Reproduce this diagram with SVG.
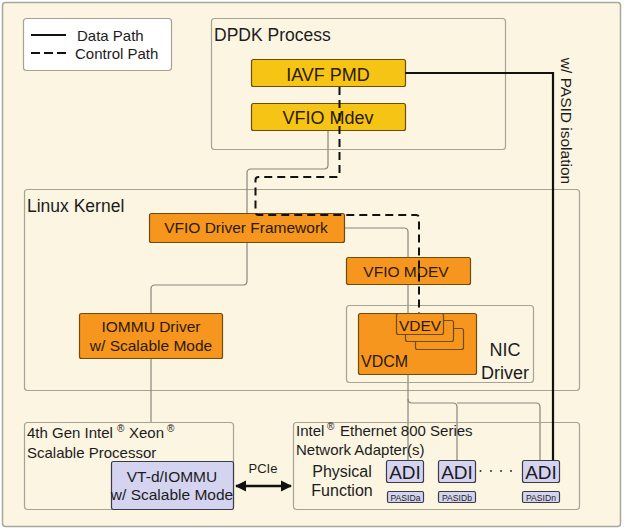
<svg xmlns="http://www.w3.org/2000/svg" width="624" height="532" viewBox="0 0 624 532">
<style>
text{font-family:"Liberation Sans",Arial,sans-serif;fill:#1c1c1c}
.grp{fill:none;stroke:#a6a396;stroke-width:1.2}
.gold{fill:#f6c414;stroke:#6e4c0e;stroke-width:1.2}
.orng{fill:#f6961f;stroke:#6e4c0e;stroke-width:1.2}
.lav{fill:#d4d4f1;stroke:#3a3a48;stroke-width:1.2}
.t16{font-size:16px}
.t15{font-size:15px}
.ot{fill:#2b1a06}
.thin{fill:none;stroke:#88867c;stroke-width:1.2}
.data{fill:none;stroke:#111;stroke-width:2.2}
.ctrl{fill:none;stroke:#111;stroke-width:2;stroke-dasharray:8 5}
.sup{font-size:10px}
.pas{font-size:8.6px}
</style>
<defs>
<marker id="ah" viewBox="0 0 10 10" refX="9" refY="5" markerWidth="4.5" markerHeight="4.5" orient="auto-start-reverse" markerUnits="strokeWidth">
<path d="M0,0 L10,5 L0,10 z" fill="#111"/>
</marker>
</defs>
<rect x="2.5" y="2.5" width="618" height="524" rx="3" fill="#fbf5e2" stroke="#a9a69b" stroke-width="1.5"/>

<g id="legend">
<rect x="23.5" y="18.5" width="148" height="52" rx="3" fill="#fff" stroke="#a6a396" stroke-width="1.2"/>
<line x1="31" y1="35" x2="66" y2="35" stroke="#111" stroke-width="2"/>
<line x1="31" y1="53" x2="66" y2="53" stroke="#111" stroke-width="2" stroke-dasharray="9 4"/>
<text x="77" y="41" class="t15">Data Path</text>
<text x="75" y="59" class="t15">Control Path</text>
</g>

<g id="dpdk-process">
<rect x="211.5" y="18.5" width="294" height="131" rx="3" class="grp"/>
<text x="214" y="41" style="font-size:17.5px">DPDK Process</text>
</g>

<g id="linux-kernel">
<rect x="24.5" y="189.5" width="555" height="201" rx="3" class="grp"/>
<text x="27" y="212" style="font-size:17.5px">Linux Kernel</text>
</g>

<g id="connectors">
<path class="thin" d="M328,131 V165 Q328,169 324,169 H251 Q247,169 247,173 V281 Q247,285 243,285 H155 Q151,285 151,289 V422"/>
<path class="thin" d="M344,228 H404 Q408,228 408,232 V460"/>
<path class="thin" d="M408,399 Q408,403 412,403 H453 Q457,403 457,407 V460"/>
<path class="thin" d="M457,403 H536 Q540,403 540,407 V460"/>
</g>

<g id="iavf-pmd">
<rect x="251.5" y="59.5" width="154" height="27" rx="2" class="gold"/>
<text x="328" y="81" text-anchor="middle" class="ot" style="font-size:18px">IAVF PMD</text>
</g>
<g id="vfio-mdev-user">
<rect x="251.5" y="103.5" width="154" height="27" rx="2" class="gold"/>
<text x="328" y="124" text-anchor="middle" class="ot" style="font-size:18px">VFIO Mdev</text>
</g>

<g id="vfio-driver-framework">
<rect x="149.5" y="213.5" width="195" height="29" rx="2" class="orng"/>
<text x="246" y="233" text-anchor="middle" class="ot" style="font-size:15.5px">VFIO Driver Framework</text>
</g>

<g id="vfio-mdev-kernel">
<rect x="346.5" y="257.5" width="124" height="27" rx="2" class="orng"/>
<text x="406" y="277" text-anchor="middle" class="ot" style="font-size:15.5px">VFIO MDEV</text>
</g>

<g id="iommu-driver">
<rect x="79.5" y="313.5" width="143" height="45" rx="2" class="orng"/>
<text x="151" y="332" text-anchor="middle" class="ot" style="font-size:15.5px">IOMMU Driver</text>
<text x="151" y="351" text-anchor="middle" class="ot" style="font-size:15.5px">w/ Scalable Mode</text>
</g>

<g id="nic-driver">
<rect x="346.5" y="305.5" width="187" height="77" rx="3" class="grp"/>
<text x="505" y="356" text-anchor="middle" style="font-size:18px">NIC</text>
<text x="505" y="379" text-anchor="middle" style="font-size:18px">Driver</text>
</g>

<g id="vdcm">
<rect x="358.5" y="313.5" width="118" height="61" rx="2" class="orng"/>
<text x="361" y="367" class="ot" style="font-size:16px">VDCM</text>
</g>

<g id="vdev">
<rect x="415.5" y="328.5" width="48" height="21" rx="2" class="orng"/>
<rect x="405.5" y="320.5" width="48" height="21" rx="2" class="orng"/>
<rect x="396.5" y="313.5" width="47" height="21" rx="2" class="orng"/>
<text x="420" y="331" text-anchor="middle" class="ot" style="font-size:15.5px">VDEV</text>
</g>

<g id="xeon-processor">
<rect x="24.5" y="422.5" width="209" height="87" rx="3" class="grp"/>
<text x="27" y="438" class="t15">4th Gen Intel</text>
<text x="117" y="432" class="sup">®</text>
<text x="129" y="438" class="t15">Xeon</text>
<text x="167" y="432" class="sup">®</text>
<text x="27" y="458" class="t15">Scalable Processor</text>
</g>

<g id="vtd-iommu">
<rect x="111.5" y="461.5" width="122" height="48" rx="2" class="lav"/>
<text x="172" y="482" text-anchor="middle" style="font-size:15.5px">VT-d/IOMMU</text>
<text x="172" y="500" text-anchor="middle" style="font-size:15.5px">w/ Scalable Mode</text>
</g>

<g id="ethernet-adapter">
<rect x="293.5" y="422.5" width="286" height="87" rx="3" class="grp"/>
<text x="296" y="436" class="t15">Intel</text>
<text x="327" y="430" class="sup">®</text>
<text x="340" y="436" class="t15">Ethernet 800 Series</text>
<text x="296" y="455" class="t15">Network Adapter(s)</text>
<text x="342" y="477" text-anchor="middle" style="font-size:16px">Physical</text>
<text x="342" y="496" text-anchor="middle" style="font-size:16px">Function</text>
</g>

<g id="adi-a">
<rect x="386.5" y="460.5" width="37" height="22" rx="2" class="lav"/>
<text x="405" y="479" text-anchor="middle" style="font-size:19px">ADI</text>
<rect x="387.5" y="491.5" width="36" height="11" rx="1.5" class="lav"/>
<text x="405.5" y="500.5" text-anchor="middle" class="pas">PASIDa</text>
</g>
<g id="adi-b">
<rect x="438.5" y="460.5" width="37" height="22" rx="2" class="lav"/>
<text x="457" y="479" text-anchor="middle" style="font-size:19px">ADI</text>
<rect x="438.5" y="491.5" width="37" height="11" rx="1.5" class="lav"/>
<text x="457" y="500.5" text-anchor="middle" class="pas">PASIDb</text>
</g>
<g id="adi-n">
<rect x="522.5" y="460.5" width="37" height="22" rx="2" class="lav"/>
<text x="541" y="479" text-anchor="middle" style="font-size:19px">ADI</text>
<rect x="522.5" y="491.5" width="37" height="11" rx="1.5" class="lav"/>
<text x="541" y="500.5" text-anchor="middle" class="pas">PASIDn</text>
</g>
<g id="dots">
<circle cx="480.5" cy="471" r="1" fill="#333"/>
<circle cx="491" cy="471" r="1" fill="#333"/>
<circle cx="501" cy="471" r="1" fill="#333"/>
<circle cx="511" cy="471" r="1" fill="#333"/>
</g>

<g id="paths">
<path class="data" d="M405,73 H553 V460"/>
<path class="ctrl" d="M339.5,87 V174 Q339.5,177 336.5,177 H258.5 Q255.5,177 255.5,180 V212 Q255.5,215 258.5,215 H416 Q419,215 419,218 V313"/>
<line x1="236" y1="486" x2="291" y2="486" stroke="#111" stroke-width="2.5" marker-start="url(#ah)" marker-end="url(#ah)"/>
<text x="263" y="473" text-anchor="middle" style="font-size:13px">PCIe</text>
<text transform="translate(560.5,121) rotate(90)" x="0" y="0" text-anchor="middle" style="font-size:15.5px">w/ PASID isolation</text>
</g>
</svg>
